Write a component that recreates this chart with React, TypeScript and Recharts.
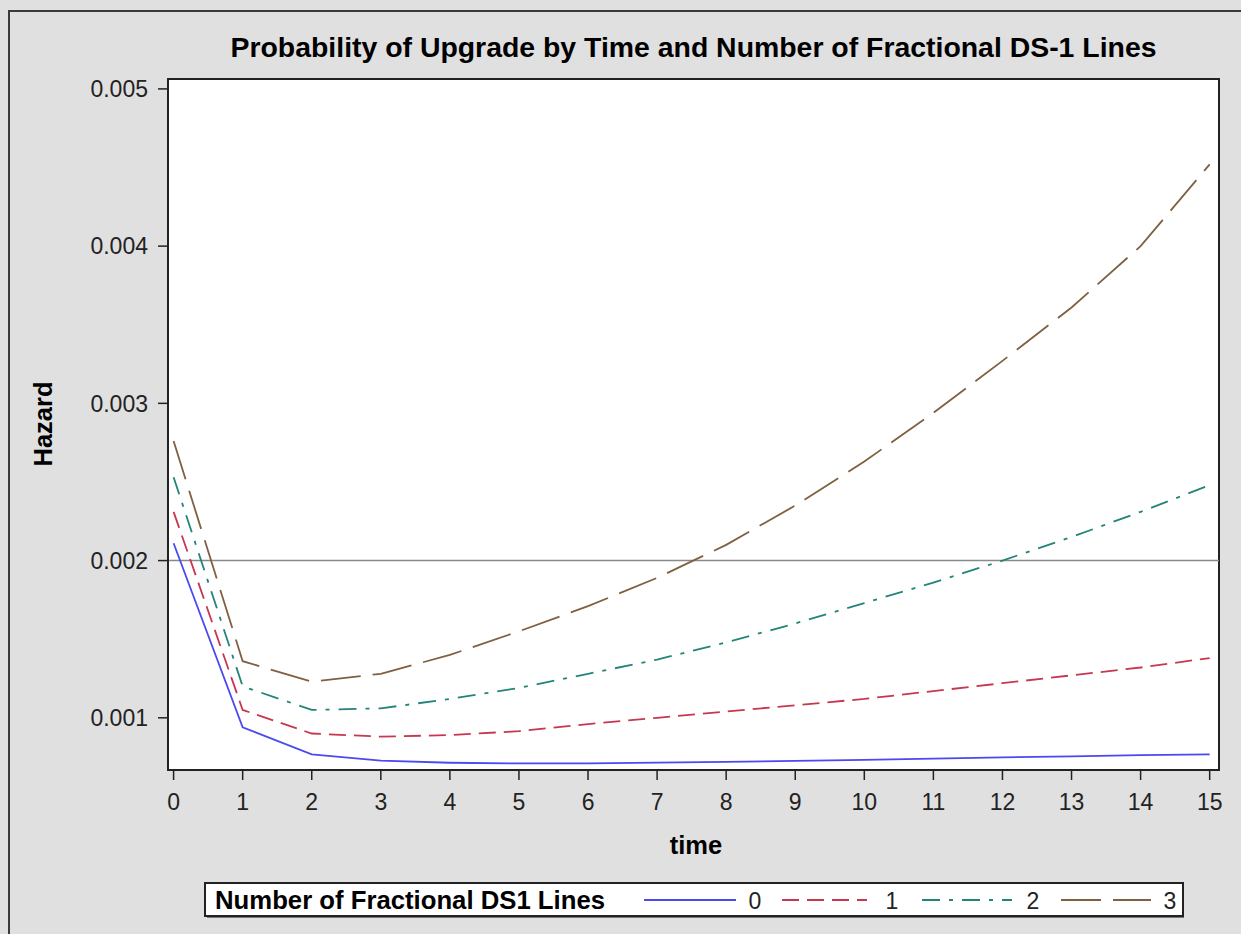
import React from "react";
import {
  CartesianGrid,
  Line,
  LineChart,
  ReferenceArea,
  ReferenceLine,
  XAxis,
  YAxis,
} from "recharts";

// time periods on the x axis
const times = [0, 1, 2, 3, 4, 5, 6, 7, 8, 9, 10, 11, 12, 13, 14, 15];

// hazard by number of fractional DS1 lines
const hazard0 = [
  0.00211, 0.00094, 0.000768, 0.000727, 0.000714, 0.00071, 0.00071, 0.000715,
  0.00072, 0.000726, 0.000733, 0.00074, 0.000748, 0.000755, 0.000762, 0.000768,
];
const hazard1 = [
  0.00231, 0.00105, 0.0009, 0.00088, 0.00089, 0.000915, 0.00096, 0.001,
  0.00104, 0.00108, 0.00112, 0.00117, 0.00122, 0.00127, 0.00132, 0.00138,
];
const hazard2 = [
  0.00253, 0.0012, 0.00105, 0.00106, 0.00112, 0.00119, 0.00128, 0.00137,
  0.00148, 0.0016, 0.00173, 0.00186, 0.002, 0.00215, 0.00231, 0.00248,
];
const hazard3 = [
  0.00276, 0.00136, 0.00123, 0.00128, 0.0014, 0.00155, 0.00171, 0.00189,
  0.0021, 0.00235, 0.00263, 0.00294, 0.00327, 0.00361, 0.004, 0.00452,
];

const xTicks = [0, 1, 2, 3, 4, 5, 6, 7, 8, 9, 10, 11, 12, 13, 14, 15];
const yTicks = [0.001, 0.002, 0.003, 0.004, 0.005];
const threshold = 0.002;

const X_DOMAIN: [number, number] = [-0.081, 15.135];
const Y_DOMAIN: [number, number] = [0.000668, 0.005063];

const series = [
  { key: "h0", label: "0", values: hazard0, color: "#4a4af0", dash: undefined },
  { key: "h1", label: "1", values: hazard1, color: "#c7374f", dash: "17 8" },
  { key: "h2", label: "2", values: hazard2, color: "#23847a", dash: "18 9 4 9" },
  { key: "h3", label: "3", values: hazard3, color: "#7f6040", dash: "40 12" },
];

const rows = times.map((t, i) => {
  const row: Record<string, number> = { time: t };
  series.forEach((s) => {
    row[s.key] = s.values[i];
  });
  return row;
});

const FONT = '"Liberation Sans", Arial, sans-serif';
const tickStyle = { fill: "#222", fontSize: 23, fontFamily: FONT };

// legend swatch spans along the bottom box
const legendItems = [
  { x1: 644, x2: 736, tx: 755 },
  { x1: 782, x2: 867, tx: 892 },
  { x1: 922, x2: 1012, tx: 1033 },
  { x1: 1061, x2: 1151, tx: 1170 },
];

export default function App() {
  return (
    <div
      style={{
        position: "absolute",
        left: 0,
        top: 0,
        width: 1241,
        height: 934,
        background: "#e0e0e0",
        overflow: "hidden",
        fontFamily: FONT,
      }}
    >
      <div
        style={{
          position: "absolute",
          left: 8,
          top: 10,
          width: 1300,
          height: 1000,
          borderLeft: "2px solid #3a3a3a",
          borderTop: "2px solid #3a3a3a",
        }}
      />
      <LineChart
        width={1241}
        height={934}
        data={rows}
        margin={{ top: 79, right: 22, bottom: 124, left: 68 }}
        style={{ position: "absolute", left: 0, top: 0 }}
      >
        <CartesianGrid fill="#ffffff" horizontal={false} vertical={false} />
        <XAxis
          dataKey="time"
          type="number"
          domain={X_DOMAIN}
          ticks={xTicks}
          allowDataOverflow
          height={40}
          tickSize={10}
          tickMargin={14}
          tick={tickStyle}
          axisLine={{ stroke: "#222", strokeWidth: 2 }}
          tickLine={{ stroke: "#222", strokeWidth: 1.5 }}
        />
        <YAxis
          type="number"
          domain={Y_DOMAIN}
          ticks={yTicks}
          allowDataOverflow
          width={100}
          tickSize={10}
          tickMargin={10}
          tick={tickStyle}
          tickFormatter={(v: number) => v.toFixed(3)}
          axisLine={{ stroke: "#222", strokeWidth: 2 }}
          tickLine={{ stroke: "#222", strokeWidth: 1.5 }}
        />
        <ReferenceLine y={threshold} stroke="#8a8a8a" strokeWidth={1.5} />
        {series.map((s) => (
          <Line
            key={s.key}
            dataKey={s.key}
            type="linear"
            stroke={s.color}
            strokeWidth={1.8}
            strokeDasharray={s.dash}
            dot={false}
            activeDot={false}
            isAnimationActive={false}
          />
        ))}
        <ReferenceArea
          x1={X_DOMAIN[0]}
          x2={X_DOMAIN[1]}
          y1={Y_DOMAIN[0]}
          y2={Y_DOMAIN[1]}
          fill="none"
          stroke="#222"
          strokeWidth={2}
          ifOverflow="visible"
        />
      </LineChart>
      <svg
        width={1241}
        height={934}
        style={{ position: "absolute", left: 0, top: 0, pointerEvents: "none" }}
        fontFamily={FONT}
      >
        <text
          x={693.5}
          y={57}
          textAnchor="middle"
          fontSize={28}
          fontWeight="bold"
          fill="#000"
          textLength={926}
          lengthAdjust="spacingAndGlyphs"
        >
          Probability of Upgrade by Time and Number of Fractional DS-1 Lines
        </text>
        <text
          transform="translate(51.5 424) rotate(-90)"
          textAnchor="middle"
          fontSize={25.5}
          fontWeight="bold"
          fill="#000"
        >
          Hazard
        </text>
        <text x={696} y={854} textAnchor="middle" fontSize={25.5} fontWeight="bold" fill="#000">
          time
        </text>
        <rect x={205} y={883} width={978} height={33} fill="#fff" stroke="#222" strokeWidth={2} />
        <line x1={207} y1={917.5} x2={1184} y2={917.5} stroke="#777" strokeWidth={1} />
        <text
          x={215}
          y={909}
          fontSize={25}
          fontWeight="bold"
          fill="#000"
          textLength={390}
          lengthAdjust="spacingAndGlyphs"
        >
          Number of Fractional DS1 Lines
        </text>
        {series.map((s, i) => (
          <g key={s.key}>
            <line
              x1={legendItems[i].x1}
              x2={legendItems[i].x2}
              y1={900}
              y2={900}
              stroke={s.color}
              strokeWidth={1.8}
              strokeDasharray={s.dash}
            />
            <text x={legendItems[i].tx} y={909} textAnchor="middle" fontSize={23} fill="#222">
              {s.label}
            </text>
          </g>
        ))}
      </svg>
    </div>
  );
}
